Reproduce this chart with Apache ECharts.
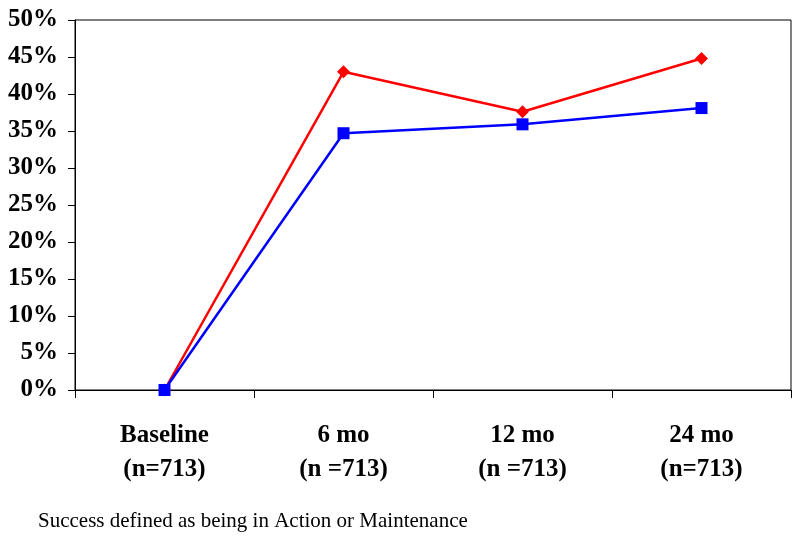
<!DOCTYPE html>
<html><head><meta charset="utf-8">
<script src="https://cdn.jsdelivr.net/npm/echarts@6/dist/echarts.min.js"></script>
<style>html,body{margin:0;padding:0;background:#fff}#c{width:800px;height:539px}</style>
</head><body><div id="c"></div>
<script>
const categories = ['Baseline\n(n=713)', '6 mo\n(n =713)', '12 mo\n(n =713)', '24 mo\n(n=713)'];
const redValues = [0, 43.0, 37.6, 44.8];
const blueValues = [0, 34.7, 35.9, 38.1];
const yTicks = [0, 5, 10, 15, 20, 25, 30, 35, 40, 45, 50];
const caption = 'Success defined as being in Action or Maintenance';

const font = '"Liberation Serif", "Times New Roman", serif';
const chart = echarts.init(document.getElementById('c'), null, {renderer: 'canvas'});
chart.setOption({
  animation: false,
  backgroundColor: '#fff',
  grid: {left: 75, right: 9, top: 20, bottom: 149, show: true, borderColor: '#000', borderWidth: 1, containLabel: false},
  xAxis: {
    type: 'category', data: categories, boundaryGap: true,
    axisLine: {lineStyle: {color: '#000', width: 1}},
    axisTick: {show: true, length: 8, inside: false, lineStyle: {color: '#000'}},
    axisLabel: {color: '#000', fontFamily: font, fontWeight: 'bold', fontSize: 25, lineHeight: 34, margin: 29, interval: 0},
    splitLine: {show: false}
  },
  yAxis: {
    type: 'value', min: yTicks[0], max: yTicks[yTicks.length - 1], interval: 5,
    axisLine: {show: true, lineStyle: {color: '#000', width: 1}},
    axisTick: {show: true, length: 7, lineStyle: {color: '#000'}},
    axisLabel: {color: '#000', fontFamily: font, fontWeight: 'bold', fontSize: 25, margin: 17, formatter: v => v + '%'},
    splitLine: {show: false}
  },
  series: [
    {type: 'line', data: redValues, symbol: 'diamond', symbolSize: 13, color: '#ff0000',
     lineStyle: {color: '#ff0000', width: 2.5}, itemStyle: {color: '#ff0000'}},
    {type: 'line', data: blueValues, symbol: 'rect', symbolSize: 12, color: '#0000ff', z: 3,
     lineStyle: {color: '#0000ff', width: 2.5}, itemStyle: {color: '#0000ff'}}
  ],
  graphic: [{type: 'text', left: 38, top: 511, style: {text: caption, font: '21px ' + font, fill: '#000'}}]
});
</script></body></html>
